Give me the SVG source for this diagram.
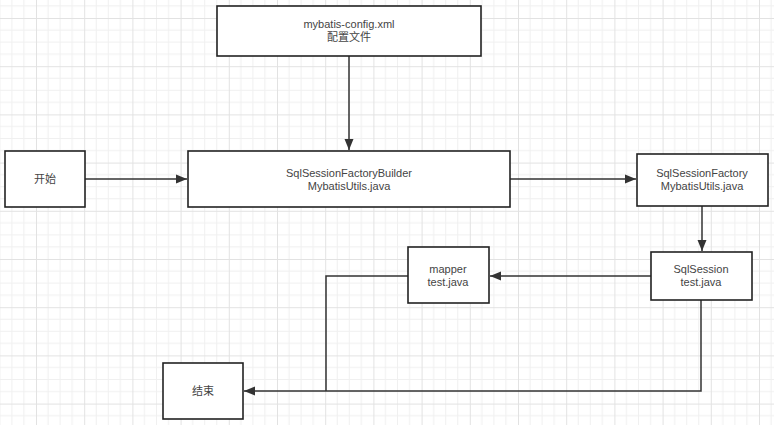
<svg xmlns="http://www.w3.org/2000/svg" width="774" height="425" viewBox="0 0 774 425">
  <defs>
    <pattern id="grid" patternUnits="userSpaceOnUse" x="36" y="18" width="48.2" height="48.2">
      <path d="M12.05 0V48.2M24.1 0V48.2M36.15 0V48.2M0 12.05H48.2M0 24.1H48.2M0 36.15H48.2" stroke="#f0f0f0" stroke-width="1" fill="none"/>
      <path d="M0.5 0V48.2M0 0.5H48.2" stroke="#e2e2e2" stroke-width="1" fill="none"/>
    </pattern>
    <marker id="arrow" markerWidth="12" markerHeight="10" refX="11" refY="5" orient="auto" markerUnits="userSpaceOnUse">
      <path d="M0 0.5L11 5L0 9.5Z" fill="#333"/>
    </marker>
    <style>
      .box { fill: #fff; stroke: #222; stroke-width: 1.6; }
      .lbl { font-family: "Liberation Sans", "Noto Sans CJK SC", sans-serif; font-size: 11px; fill: #444; text-anchor: middle; }
      .conn { fill: none; stroke: #333; stroke-width: 1.5; }
    </style>
  </defs>
  <rect width="774" height="425" fill="#fff"/>
  <rect width="774" height="425" fill="url(#grid)"/>

  <g id="connectors">
    <path class="conn" d="M349 56V150" marker-end="url(#arrow)"/>
    <path class="conn" d="M85 179H187" marker-end="url(#arrow)"/>
    <path class="conn" d="M510 179H636" marker-end="url(#arrow)"/>
    <path class="conn" d="M702 206V251" marker-end="url(#arrow)"/>
    <path class="conn" d="M651 276H490" marker-end="url(#arrow)"/>
    <path class="conn" d="M408 276H326V391"/>
    <path class="conn" d="M701 300V391H244" marker-end="url(#arrow)"/>
  </g>

  <g id="config">
    <rect class="box" x="217" y="6" width="264" height="50"/>
    <text class="lbl" x="349" y="28">mybatis-config.xml</text>
    <text class="lbl" x="349" y="41">配置文件</text>
  </g>
  <g id="start">
    <rect class="box" x="5" y="151" width="80" height="56"/>
    <text class="lbl" x="45" y="183">开始</text>
  </g>
  <g id="builder">
    <rect class="box" x="188" y="151" width="322" height="56"/>
    <text class="lbl" x="349" y="177">SqlSessionFactoryBuilder</text>
    <text class="lbl" x="349" y="190">MybatisUtils.java</text>
  </g>
  <g id="factory">
    <rect class="box" x="637" y="154" width="131" height="52"/>
    <text class="lbl" x="702" y="177">SqlSessionFactory</text>
    <text class="lbl" x="702" y="190">MybatisUtils.java</text>
  </g>
  <g id="session">
    <rect class="box" x="651" y="252" width="101" height="48"/>
    <text class="lbl" x="701" y="273">SqlSession</text>
    <text class="lbl" x="701" y="286">test.java</text>
  </g>
  <g id="mapper">
    <rect class="box" x="408" y="247" width="81" height="56"/>
    <text class="lbl" x="448" y="273">mapper</text>
    <text class="lbl" x="448" y="286">test.java</text>
  </g>
  <g id="end">
    <rect class="box" x="163" y="363" width="80" height="56"/>
    <text class="lbl" x="203" y="395">结束</text>
  </g>
</svg>
